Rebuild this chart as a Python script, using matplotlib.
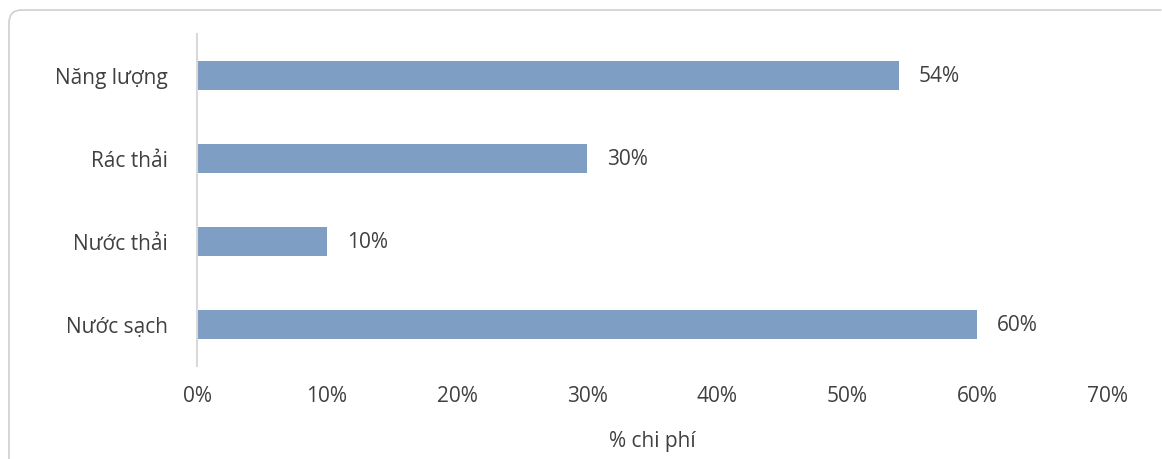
import matplotlib.pyplot as plt
from matplotlib.patches import PathPatch
from matplotlib.path import Path
from matplotlib.transforms import IdentityTransform
from matplotlib.ticker import FuncFormatter

categories = ['Năng lượng', 'Rác thải', 'Nước thải', 'Nước sạch']
shares = [54, 30, 10, 60]
xticks = [0, 10, 20, 30, 40, 50, 60, 70]

bar_color = '#7f9ec4'
text_color = '#404040'
fsize = 15

plt.rcParams['font.family'] = ['Open Sans', 'DejaVu Sans']

W, H = 1162, 460
fig = plt.figure(figsize=(W / 100, H / 100), dpi=100)

# rounded top-left corner of the outer frame, drawn as an open path in pixels
left, top, r = 9, H - 11, 13
corner = Path([(left, 0), (left, top - r), (left, top), (left + r, top), (W - 0.5, top)],
              [Path.MOVETO, Path.LINETO, Path.CURVE3, Path.CURVE3, Path.LINETO])
fig.patches.append(PathPatch(corner, transform=IdentityTransform(), fill=False,
                             edgecolor='#d0d0d0', linewidth=1.2, clip_on=False))

ax = fig.add_axes([197 / W, 1 - 367 / H, 910 / W, 332 / H])
ypos = list(range(len(categories)))
ax.barh(ypos, shares, height=0.35, color=bar_color)
ax.set_ylim(len(categories) - 0.5, -0.5)
ax.set_xlim(0, 70)

for y, v in zip(ypos, shares):
    ax.annotate(f'{v}%', (v, y), xytext=(20, 0), textcoords='offset pixels',
                va='center', ha='left', fontsize=fsize, color=text_color)

ax.set_yticks(ypos)
ax.set_yticklabels(categories, fontsize=fsize, color=text_color)
ax.set_xticks(xticks)
ax.xaxis.set_major_formatter(FuncFormatter(lambda v, _: f'{v:.0f}%'))
ax.tick_params(axis='x', labelsize=fsize, labelcolor=text_color, length=0, pad=14)
ax.tick_params(axis='y', length=0, pad=21)
ax.set_xlabel('% chi phí', fontsize=fsize, color=text_color, labelpad=17)

for side in ['top', 'right', 'bottom']:
    ax.spines[side].set_visible(False)
ax.spines['left'].set_color('#d9d9d9')
ax.spines['left'].set_linewidth(1.5)

fig.savefig('out.png', dpi=100)
